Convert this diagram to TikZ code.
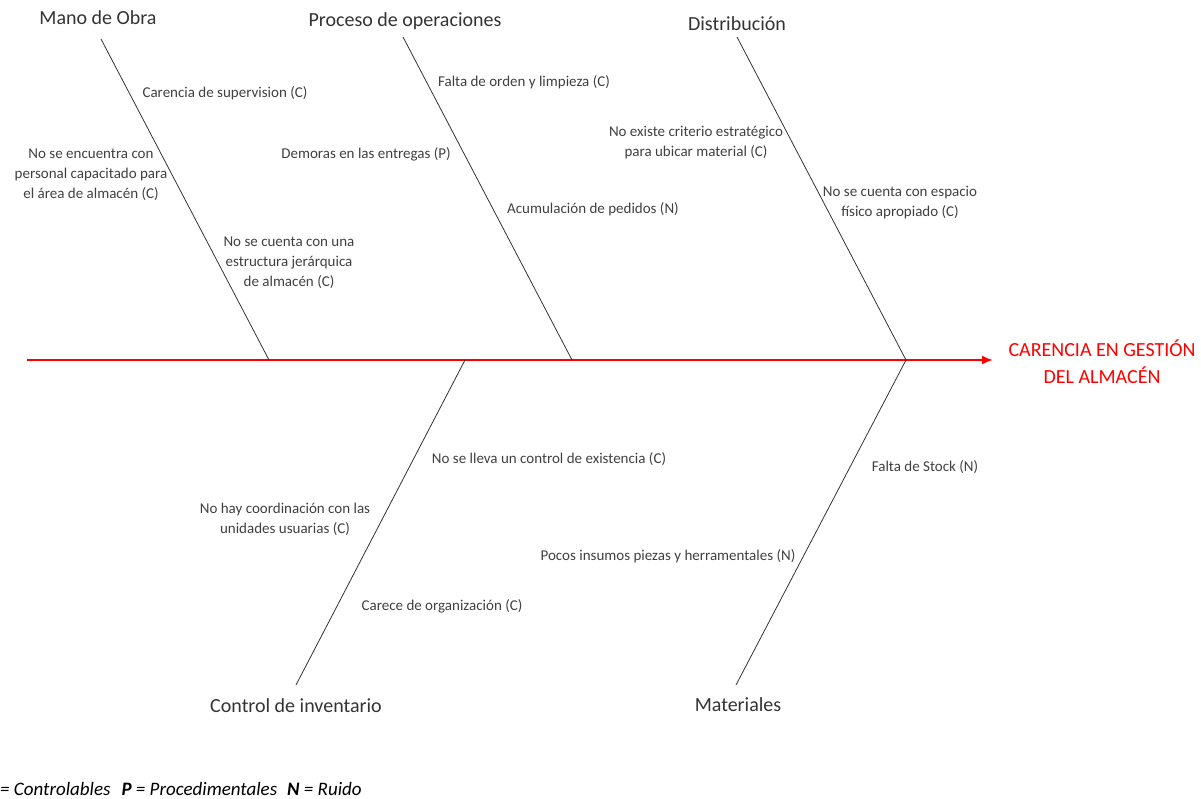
\documentclass[tikz,border=0pt]{standalone}
\usepackage{fontspec}
\setmainfont{Carlito}
\usepackage{tikz}
\usetikzlibrary{arrows.meta, positioning, calc}

\begin{document}
\begin{tikzpicture}[
  x=1pt, y=-1pt,
  > = {Latex[length=11pt,width=9pt]},
  bone/.style = {draw=black!80, line width=0.8pt},
  spine/.style = {draw=red, line width=1.8pt, ->},
  cat/.style = {text=black!80, font=\fontsize{20}{24}\selectfont, inner sep=0pt},
  cause/.style = {text=black!75, font=\fontsize{15}{20}\selectfont, align=center, inner sep=0pt},
  effect/.style = {text=red, font=\fontsize{20}{27}\selectfont, align=center, inner sep=0pt}
  ]
  \useasboundingbox (0,0) rectangle (1201,798);
  % spine
  \coordinate (@tail) at (27,360);
  \coordinate (@head) at (993,360);
  \draw[spine] (@tail) -- (@head);
  \node[effect] (@eff) at (1102,362) {CARENCIA EN GESTIÓN\\DEL ALMACÉN};
  % bones
  \coordinate (@mo) at (101,39);   \coordinate (@mo0) at (269,360);
  \coordinate (@po) at (403,37);   \coordinate (@po0) at (572,360);
  \coordinate (@di) at (737,37);   \coordinate (@di0) at (906,360);
  \coordinate (@ci) at (296,685);  \coordinate (@ci0) at (465,360);
  \coordinate (@ma) at (736,685);  \coordinate (@ma0) at (906,360);
  \draw[bone] (@mo) -- (@mo0);
  \draw[bone] (@po) -- (@po0);
  \draw[bone] (@di) -- (@di0);
  \draw[bone] (@ci) -- (@ci0);
  \draw[bone] (@ma) -- (@ma0);
  \node[cat] (@moT) at (98,18) {Mano de Obra};
  \node[cat] (@poT) at (405,21) {Proceso de operaciones};
  \node[cat] (@diT) at (737,24) {Distribución};
  \node[cat] (@ciT) at (296,706) {Control de inventario};
  \node[cat] (@maT) at (738,705) {Materiales};
  % causes
  \node[cause] (@c1) at (225,93) {Carencia de supervision (C)};
  \node[cause] (@c2) at (91,175) {No se encuentra con\\personal capacitado para\\el área de almacén (C)};
  \node[cause] (@c3) at (289,263) {No se cuenta con una\\estructura jerárquica\\de almacén (C)};
  \node[cause] (@c4) at (524,82) {Falta de orden y limpieza (C)};
  \node[cause] (@c5) at (366,154) {Demoras en las entregas (P)};
  \node[cause] (@c6) at (593,209) {Acumulación de pedidos (N)};
  \node[cause] (@c7) at (696,143) {No existe criterio estratégico\\para ubicar material (C)};
  \node[cause] (@c8) at (900,203) {No se cuenta con espacio\\físico apropiado (C)};
  \node[cause] (@c9) at (549,459) {No se lleva un control de existencia (C)};
  \node[cause] (@c10) at (285,519) {No hay coordinación con las\\unidades usuarias (C)};
  \node[cause] (@c11) at (442,606) {Carece de organización (C)};
  \node[cause] (@c12) at (925,467) {Falta de Stock (N)};
  \node[cause] (@c13) at (668,556) {Pocos insumos piezas y herramentales (N)};
  % legend
  \node[anchor=west, inner sep=0pt, font=\fontsize{19}{21}\selectfont\itshape] (@leg) at (0,789)
    {= Controlables\hspace{11pt}\textbf{P} = Procedimentales\hspace{10pt}\textbf{N} = Ruido};
\end{tikzpicture}
\end{document}
